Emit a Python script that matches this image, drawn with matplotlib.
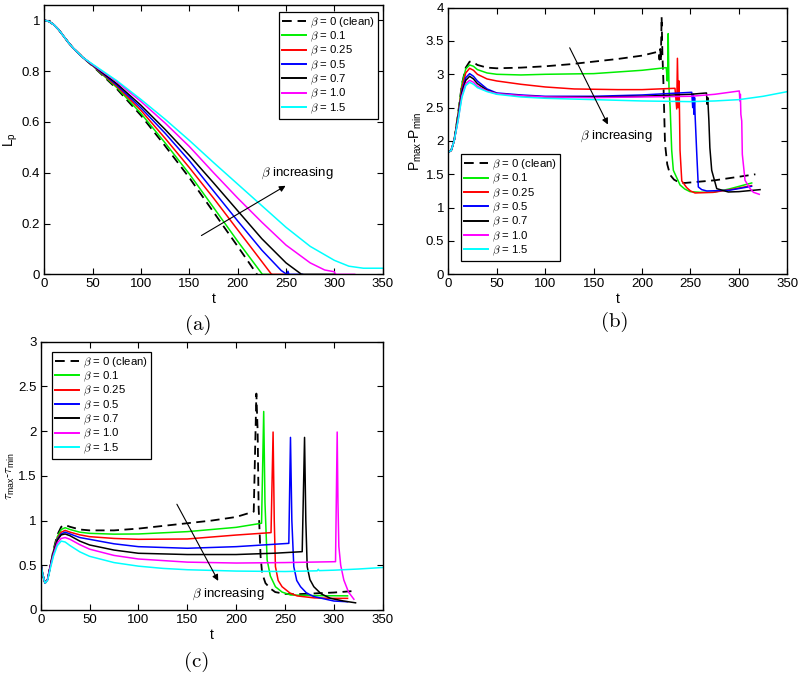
import matplotlib
matplotlib.use('Agg')
import matplotlib.pyplot as plt
from matplotlib.ticker import FuncFormatter

plt.rcParams['font.family'] = ['Liberation Sans', 'DejaVu Sans']
plt.rcParams['mathtext.fontset'] = 'cm'

# legend labels and colours
labels = [r'$\beta$ = 0 (clean)', r'$\beta$ = 0.1', r'$\beta$ = 0.25', r'$\beta$ = 0.5',
          r'$\beta$ = 0.7', r'$\beta$ = 1.0', r'$\beta$ = 1.5']
colors = ['k', '#00ee00', '#ff0000', '#0000ff', '#000000', '#ff00ff', '#00ffff']

# (a) L_p
ta_clean = [0, 5, 10, 15, 20, 25, 30, 40, 50, 75, 100, 125, 150, 175, 200, 220]
La_clean = [1.0, 0.995, 0.982, 0.962, 0.937, 0.912, 0.89, 0.853, 0.82, 0.73, 0.625, 0.505, 0.38, 0.245, 0.11, 0.0]
ta_01 = [0, 5, 10, 15, 20, 25, 30, 40, 50, 75, 100, 125, 150, 175, 200, 225.5, 235]
La_01 = [1.0, 0.995, 0.982, 0.962, 0.937, 0.912, 0.89, 0.853, 0.821, 0.735, 0.633, 0.517, 0.395, 0.263, 0.13, 0.0, 0.0]
ta_025 = [0, 5, 10, 15, 20, 25, 30, 40, 50, 75, 100, 125, 150, 175, 200, 225, 235, 251]
La_025 = [1.0, 0.995, 0.982, 0.962, 0.937, 0.912, 0.89, 0.853, 0.822, 0.74, 0.645, 0.535, 0.42, 0.3, 0.175, 0.05, 0.0, 0.0]
ta_05 = [0, 5, 10, 15, 20, 25, 30, 40, 50, 75, 100, 125, 150, 175, 200, 225, 245, 250.7, 252, 253, 267]
La_05 = [1.0, 0.995, 0.982, 0.962, 0.937, 0.912, 0.89, 0.853, 0.823, 0.745, 0.655, 0.555, 0.447, 0.328, 0.21, 0.095, 0.015, 0.0, 0.012, 0.0, 0.0]
ta_07 = [0, 5, 10, 15, 20, 25, 30, 40, 50, 75, 100, 125, 150, 175, 200, 225, 250, 266, 301]
La_07 = [1.0, 0.995, 0.982, 0.962, 0.937, 0.912, 0.89, 0.853, 0.824, 0.75, 0.665, 0.57, 0.468, 0.36, 0.25, 0.14, 0.045, 0.0, 0.0]
ta_10 = [0, 5, 10, 15, 20, 25, 30, 40, 50, 75, 100, 125, 150, 175, 200, 225, 250, 275, 290, 300, 301, 321]
La_10 = [1.0, 0.995, 0.982, 0.962, 0.937, 0.912, 0.89, 0.853, 0.825, 0.758, 0.68, 0.595, 0.503, 0.4, 0.3, 0.205, 0.115, 0.045, 0.017, 0.01, 0.0, 0.0]
ta_15 = [0, 5, 10, 15, 20, 25, 30, 40, 50, 75, 100, 125, 150, 175, 200, 225, 250, 275, 300, 315, 330, 350]
La_15 = [1.0, 0.995, 0.982, 0.962, 0.937, 0.912, 0.89, 0.853, 0.827, 0.762, 0.688, 0.61, 0.527, 0.44, 0.355, 0.27, 0.185, 0.11, 0.055, 0.032, 0.024, 0.024]

# (b) P_max - P_min
tb_clean = [0, 3, 6, 10, 14, 18, 22, 26, 30, 40, 50, 75, 100, 125, 150, 175, 200, 217, 218, 218.8, 219.4, 220.2, 221, 222, 223.7, 226, 229, 233, 238, 244, 275, 317]
Pb_clean = [1.83, 1.86, 2.0, 2.4, 2.85, 3.1, 3.19, 3.18, 3.14, 3.1, 3.09, 3.1, 3.12, 3.15, 3.19, 3.23, 3.28, 3.34, 3.22, 3.38, 3.2, 3.86, 3.3, 2.9, 1.96, 1.65, 1.49, 1.42, 1.38, 1.37, 1.41, 1.5]
tb_01 = [0, 3, 6, 10, 14, 18, 22, 26, 30, 40, 50, 75, 100, 150, 200, 225, 226, 226.5, 227, 227.8, 229, 230.6, 232.3, 239.2, 244, 249.5, 260, 273.6, 290, 313.2]
Pb_01 = [1.83, 1.86, 2.0, 2.4, 2.85, 3.08, 3.14, 3.12, 3.07, 3.02, 3.0, 2.99, 3.0, 3.01, 3.06, 3.1, 2.9, 3.05, 3.61, 2.8, 2.5, 1.86, 1.56, 1.34, 1.28, 1.24, 1.23, 1.23, 1.28, 1.37]
tb_025 = [0, 3, 6, 10, 14, 18, 22, 26, 30, 40, 50, 75, 100, 130, 175, 200, 234, 235.8, 236.5, 237.5, 238.2, 239.2, 241, 246.1, 250, 254.7, 273.6, 295, 313]
Pb_025 = [1.83, 1.86, 2.0, 2.38, 2.8, 3.02, 3.09, 3.06, 3.0, 2.93, 2.9, 2.85, 2.81, 2.78, 2.77, 2.77, 2.79, 2.48, 3.24, 2.5, 2.9, 1.86, 1.4, 1.3, 1.25, 1.22, 1.23, 1.28, 1.33]
tb_05 = [0, 3, 6, 10, 14, 18, 22, 26, 30, 40, 50, 75, 100, 150, 200, 251.3, 252.3, 253, 253.6, 254.2, 254.7, 256.5, 258.1, 261.6, 266.8, 290, 313]
Pb_05 = [1.83, 1.86, 2.0, 2.35, 2.75, 2.95, 3.01, 2.97, 2.9, 2.78, 2.72, 2.69, 2.67, 2.67, 2.69, 2.73, 2.5, 2.7, 2.4, 2.65, 2.4, 1.8, 1.31, 1.27, 1.25, 1.26, 1.32]
tb_07 = [0, 3, 6, 10, 14, 18, 22, 26, 30, 40, 50, 75, 100, 150, 200, 250, 266.5, 267.2, 267.8, 268.3, 269, 270, 271.9, 277.1, 289, 300, 321.8]
Pb_07 = [1.83, 1.86, 2.0, 2.33, 2.72, 2.91, 2.97, 2.93, 2.86, 2.76, 2.71, 2.68, 2.66, 2.66, 2.67, 2.7, 2.72, 2.55, 2.65, 2.5, 2.3, 1.9, 1.56, 1.285, 1.235, 1.24, 1.27]
tb_10 = [0, 3, 6, 10, 14, 18, 22, 26, 30, 40, 50, 75, 100, 150, 200, 250, 275, 300.4, 301, 301.5, 302, 302.9, 303.5, 306.3, 311.5, 315, 321]
Pb_10 = [1.83, 1.86, 2.0, 2.3, 2.68, 2.86, 2.91, 2.88, 2.82, 2.75, 2.71, 2.68, 2.66, 2.65, 2.66, 2.67, 2.7, 2.75, 2.6, 2.7, 2.4, 2.3, 1.8, 1.41, 1.285, 1.23, 1.2]
tb_15 = [0, 3, 6, 10, 14, 18, 22, 26, 30, 40, 50, 75, 100, 150, 200, 250, 275, 300, 325, 350]
Pb_15 = [1.83, 1.86, 2.0, 2.3, 2.65, 2.83, 2.88, 2.85, 2.8, 2.74, 2.7, 2.66, 2.64, 2.62, 2.6, 2.59, 2.6, 2.62, 2.67, 2.74]

# (c) tau_max - tau_min
tc_clean = [0, 2, 4.4, 7, 10, 13, 17, 21, 25, 30, 40, 50, 75, 100, 125, 150, 175, 200, 218, 220.7, 222, 223, 225, 226.6, 230, 235, 240, 250, 260, 280, 300, 318]
Tc_clean = [0.53, 0.4, 0.3, 0.34, 0.5, 0.67, 0.84, 0.93, 0.95, 0.93, 0.9, 0.89, 0.89, 0.91, 0.94, 0.97, 1.0, 1.04, 1.1, 2.42, 2.0, 1.15, 0.6, 0.41, 0.3, 0.24, 0.2, 0.18, 0.175, 0.185, 0.195, 0.21]
tc_01 = [0, 2, 4.4, 7, 10, 13, 17, 21, 25, 30, 40, 50, 75, 100, 150, 200, 226, 228.2, 229.5, 231.7, 235, 240.2, 247, 255.6, 280, 314]
Tc_01 = [0.53, 0.4, 0.3, 0.34, 0.5, 0.66, 0.82, 0.9, 0.92, 0.9, 0.87, 0.857, 0.848, 0.85, 0.876, 0.924, 0.97, 2.22, 1.2, 0.56, 0.38, 0.26, 0.2, 0.168, 0.16, 0.158]
tc_025 = [0, 2, 4.4, 7, 10, 13, 17, 21, 25, 30, 40, 50, 75, 100, 150, 200, 235.7, 237.8, 239, 240.2, 243, 247, 255, 262.4, 280, 300, 314]
Tc_025 = [0.53, 0.4, 0.3, 0.34, 0.5, 0.65, 0.8, 0.87, 0.89, 0.87, 0.84, 0.82, 0.8, 0.79, 0.794, 0.838, 0.865, 1.99, 1.0, 0.485, 0.33, 0.26, 0.19, 0.157, 0.135, 0.13, 0.13]
tc_05 = [0, 2, 4.4, 7, 10, 13, 17, 21, 25, 30, 40, 50, 75, 100, 150, 200, 253.9, 255.6, 257, 259, 262, 265.9, 272, 279.5, 300, 314]
Tc_05 = [0.53, 0.4, 0.3, 0.34, 0.5, 0.64, 0.79, 0.85, 0.87, 0.85, 0.81, 0.79, 0.74, 0.708, 0.69, 0.708, 0.745, 1.93, 1.0, 0.485, 0.33, 0.26, 0.19, 0.15, 0.1, 0.092]
tc_07 = [0, 2, 4.4, 7, 10, 13, 17, 21, 25, 30, 40, 50, 75, 100, 150, 200, 240, 267.6, 270, 271.3, 272.7, 275.5, 279.5, 287, 296.6, 310, 322.2]
Tc_07 = [0.53, 0.4, 0.3, 0.34, 0.5, 0.64, 0.78, 0.84, 0.85, 0.83, 0.77, 0.727, 0.67, 0.634, 0.62, 0.62, 0.635, 0.652, 1.93, 1.0, 0.485, 0.34, 0.26, 0.18, 0.13, 0.1, 0.08]
tc_10 = [0, 2, 4.4, 7, 10, 13, 17, 21, 25, 30, 40, 50, 75, 100, 150, 200, 250, 301.7, 303.4, 304.2, 305.1, 307, 310.2, 315, 320.5]
Tc_10 = [0.53, 0.4, 0.3, 0.34, 0.49, 0.62, 0.75, 0.8, 0.81, 0.79, 0.73, 0.68, 0.61, 0.57, 0.535, 0.525, 0.53, 0.54, 1.99, 1.2, 0.71, 0.5, 0.335, 0.2, 0.12]
tc_15 = [0, 2, 4.4, 7, 10, 13, 17, 21, 25, 30, 40, 50, 75, 100, 125, 150, 200, 250, 283, 284, 285, 300, 325, 350]
Tc_15 = [0.53, 0.4, 0.3, 0.33, 0.47, 0.6, 0.72, 0.77, 0.76, 0.72, 0.65, 0.6, 0.53, 0.49, 0.465, 0.45, 0.435, 0.43, 0.438, 0.455, 0.44, 0.445, 0.458, 0.475]

series_a = [(ta_clean, La_clean), (ta_01, La_01), (ta_025, La_025), (ta_05, La_05),
            (ta_07, La_07), (ta_10, La_10), (ta_15, La_15)]
series_b = [(tb_clean, Pb_clean), (tb_01, Pb_01), (tb_025, Pb_025), (tb_05, Pb_05),
            (tb_07, Pb_07), (tb_10, Pb_10), (tb_15, Pb_15)]
series_c = [(tc_clean, Tc_clean), (tc_01, Tc_01), (tc_025, Tc_025), (tc_05, Tc_05),
            (tc_07, Tc_07), (tc_10, Tc_10), (tc_15, Tc_15)]

fig = plt.figure(figsize=(8, 6.74), dpi=100)
ax_a = fig.add_axes([0.0554, 0.593, 0.423, 0.3996])
ax_b = fig.add_axes([0.5604, 0.593, 0.4238, 0.3957])
ax_c = fig.add_axes([0.0509, 0.095, 0.4275, 0.398])

fmt = FuncFormatter(lambda v, p: '%g' % v)


def draw_panel(ax, series, ymax, ystep, ylabel, ylab_size, leg_loc, leg_anchor):
    for i, (t, y) in enumerate(series):
        if i == 0:
            ax.plot(t, y, color='k', lw=1.3, ls=(0, (5, 3)), label=labels[i])
        else:
            ax.plot(t, y, color=colors[i], lw=1.1, label=labels[i])
    ax.set_xlim(0, 350)
    ax.set_ylim(0, ymax)
    ax.set_xticks(range(0, 351, 50))
    n = int(round(min(ymax, 4) / ystep))
    ax.set_yticks([k * ystep for k in range(n + 1)])
    ax.xaxis.set_major_formatter(fmt)
    ax.yaxis.set_major_formatter(fmt)
    ax.tick_params(direction='in', top=True, right=True, length=4, width=0.8,
                   labelsize=9.5, pad=3)
    for s in ax.spines.values():
        s.set_linewidth(1.0)
    ax.set_xlabel('t', fontsize=10, labelpad=1)
    ax.set_ylabel(ylabel, fontsize=ylab_size, labelpad=1)
    leg = ax.legend(loc=leg_loc, bbox_to_anchor=leg_anchor, borderaxespad=0, fontsize=8.2,
                    labelspacing=0.0, handlelength=2.1, handletextpad=0.3,
                    borderpad=0.3, fancybox=False, framealpha=1)
    leg.get_frame().set_edgecolor('k')
    leg.get_frame().set_linewidth(0.9)
    for h in leg.get_lines():
        h.set_linewidth(1.4)


draw_panel(ax_a, series_a, 1.06, 0.2, r'$\mathregular{L_p}$', 10, 'upper right', (0.986, 0.974))
draw_panel(ax_b, series_b, 4, 0.5, r'$\mathregular{P_{max}}$-$\mathregular{P_{min}}$', 10,
           'lower left', (0.037, 0.049))
draw_panel(ax_c, series_c, 3, 0.5, r'$\tau_{\mathregular{max}}$-$\tau_{\mathregular{min}}$', 9,
           'upper left', (0.033, 0.962))

# beta increasing arrows
arrow = dict(arrowstyle='-|>', color='k', lw=0.8, mutation_scale=9)
ax_a.annotate('', xy=(252, 0.354), xytext=(160, 0.147), arrowprops=arrow)
ax_a.text(224, 0.396, r'$\beta$ increasing', fontsize=9.5, va='center')
ax_b.annotate('', xy=(166, 2.21), xytext=(124, 3.435), arrowprops=arrow)
ax_b.text(136, 2.07, r'$\beta$ increasing', fontsize=9.5, va='center')
ax_c.annotate('', xy=(183, 0.298), xytext=(138, 1.21), arrowprops=arrow)
ax_c.text(155, 0.18, r'$\beta$ increasing', fontsize=9.5, va='center')

# panel captions
fig.text(198 / 800, 1 - 325 / 674, '(a)', fontfamily='cmr10', fontsize=15, ha='center', va='center')
fig.text(615 / 800, 1 - 322 / 674, '(b)', fontfamily='cmr10', fontsize=15, ha='center', va='center')
fig.text(197 / 800, 1 - 662 / 674, '(c)', fontfamily='cmr10', fontsize=15, ha='center', va='center')

fig.savefig('out.png', dpi=100)
